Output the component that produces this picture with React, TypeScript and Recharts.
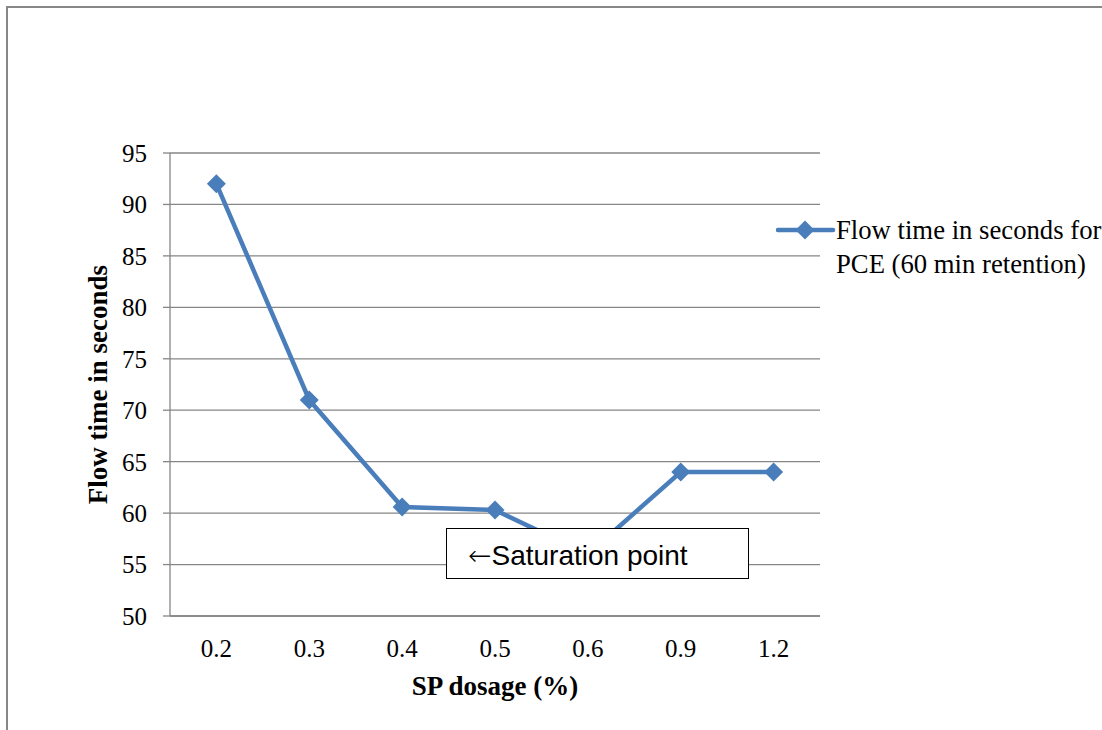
import React from 'react';
import { LineChart, Line, XAxis, YAxis, CartesianGrid } from 'recharts';

const categories = ['0.2', '0.3', '0.4', '0.5', '0.6', '0.9', '1.2'];
const flowTime = [92, 71, 60.6, 60.3, 56, 64, 64];
const yTicks = [50, 55, 60, 65, 70, 75, 80, 85, 90, 95];
const legendLines = ['Flow time in seconds for', 'PCE (60 min retention)'];
const xTitle = 'SP dosage (%)';
const yTitle = 'Flow time in seconds';
const annotationArrow = '\u2190';
const annotationText = 'Saturation point';

const data = categories.map((c, i) => ({ dosage: c, flow: flowTime[i] }));

const LINE = '#4A7EBB';
const GRID = '#868686';
const SERIF = '"Liberation Serif", "Times New Roman", serif';
const SANS = '"Liberation Sans", "DejaVu Sans", sans-serif';

const Diamond = (props: any) => {
  const { cx, cy } = props;
  if (cx == null || cy == null) return null;
  const r = 9.5;
  return (
    <path
      d={`M${cx},${cy - r}L${cx + r},${cy}L${cx},${cy + r}L${cx - r},${cy}Z`}
      fill={LINE}
      stroke="none"
    />
  );
};

export default function App() {
  return (
    <div
      style={{
        position: 'absolute',
        left: 0,
        top: 0,
        width: 1102,
        height: 730,
        overflow: 'hidden',
        background: '#fff',
      }}
    >
      <div
        style={{
          position: 'absolute',
          left: 6,
          top: 6,
          width: 1120,
          height: 760,
          border: '2px solid #878787',
          boxSizing: 'border-box',
        }}
      />
      <div style={{ position: 'absolute', left: 0, top: 0 }}>
        <LineChart
          width={1102}
          height={730}
          data={data}
          margin={{ top: 153, right: 282, bottom: 84, left: 90 }}
        >
          <CartesianGrid vertical={false} stroke={GRID} strokeWidth={1.3} />
          <XAxis
            dataKey="dosage"
            type="category"
            padding={{ left: 46.4, right: 46.4 }}
            axisLine={{ stroke: GRID, strokeWidth: 1.3 }}
            tickLine={false}
            tickSize={0}
            tickMargin={23}
            height={30}
            tick={{ fill: '#000', fontSize: 25, fontFamily: SERIF }}
            label={{
              value: xTitle,
              position: 'bottom',
              offset: 30,
              style: { fill: '#000', fontSize: 27, fontWeight: 'bold', fontFamily: SERIF },
            }}
          />
          <YAxis
            type="number"
            domain={[50, 95]}
            ticks={yTicks}
            width={80}
            axisLine={{ stroke: GRID, strokeWidth: 1.3 }}
            tickLine={{ stroke: GRID, strokeWidth: 1.3 }}
            tickSize={7}
            tickMargin={16}
            tick={{ fill: '#000', fontSize: 25, fontFamily: SERIF }}
            label={{
              value: yTitle,
              angle: -90,
              position: 'insideLeft',
              offset: 7,
              style: {
                fill: '#000',
                fontSize: 27,
                fontWeight: 'bold',
                fontFamily: SERIF,
                textAnchor: 'middle',
              },
            }}
          />
          <Line
            type="linear"
            dataKey="flow"
            name={legendLines.join(' ')}
            stroke={LINE}
            strokeWidth={4.5}
            dot={<Diamond />}
            activeDot={false}
            isAnimationActive={false}
          />
        </LineChart>
      </div>
      <div
        style={{
          position: 'absolute',
          left: 446,
          top: 528,
          width: 303,
          height: 51,
          boxSizing: 'border-box',
          border: '1.5px solid #000',
          background: '#fff',
          fontFamily: SANS,
          fontSize: 28,
          lineHeight: '54px',
          paddingLeft: 21,
          color: '#000',
          whiteSpace: 'nowrap',
        }}
      >
        <span style={{ fontFamily: '"DejaVu Sans", sans-serif', fontWeight: 200 }}>{annotationArrow}</span>
        {annotationText}
      </div>
      <div
        style={{
          position: 'absolute',
          left: 776,
          top: 213,
          display: 'flex',
          alignItems: 'flex-start',
          fontFamily: SERIF,
          fontSize: 26.7,
          lineHeight: '34px',
          color: '#000',
          whiteSpace: 'nowrap',
        }}
      >
        <svg width={60} height={34} style={{ flex: 'none' }}>
          <line x1={2} y1={17} x2={57} y2={17} stroke={LINE} strokeWidth={4.5} strokeLinecap="round" />
          <path d="M29,7.5L38.5,17L29,26.5L19.5,17Z" fill={LINE} />
        </svg>
        <div>
          {legendLines.map((t) => (
            <div key={t}>{t}</div>
          ))}
        </div>
      </div>
    </div>
  );
}
